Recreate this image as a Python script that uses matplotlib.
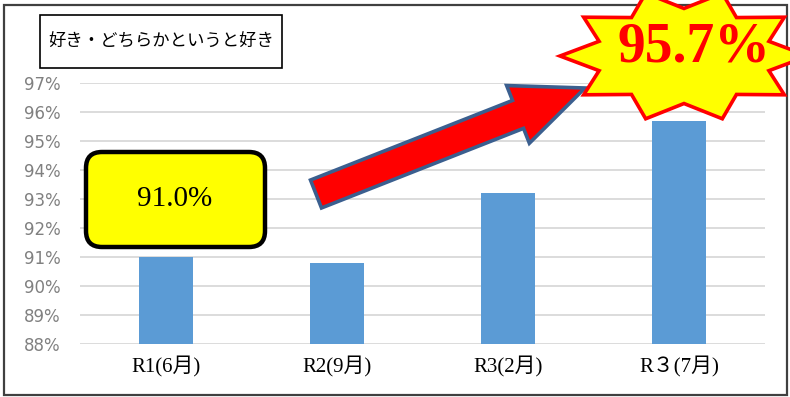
import numpy as np
import matplotlib
matplotlib.use("Agg")
import matplotlib.pyplot as plt
from matplotlib.patches import Rectangle, FancyBboxPatch, Polygon
from matplotlib.transforms import IdentityTransform

# データ
categories = ["R1(6月)", "R2(9月)", "R3(2月)", "R３(7月)"]
values = [91.0, 90.8, 93.2, 95.7]
yticks = [88, 89, 90, 91, 92, 93, 94, 95, 96, 97]
title_text = "好き・どちらかというと好き"
first_label = "91.0%"
last_label = "95.7%"

W, H = 790, 397
cjk = "Noto Sans CJK JP"
serif = ["Liberation Serif", cjk]

def px(x, y):
    # 画像座標(左上原点) -> 表示座標
    return (x, H - y)

fig = plt.figure(figsize=(W / 100, H / 100), dpi=100)
fig.patch.set_facecolor("white")
ax = fig.add_axes([80 / W, 1 - 344 / H, (765 - 80) / W, (344 - 83) / H])

x = np.arange(len(categories))
ax.bar(x, np.array(values) - 88, bottom=88, width=0.315, color="#5b9bd5", zorder=3)
ax.set_xlim(-0.5, len(categories) - 0.5)
ax.set_ylim(88, 97)
ax.set_yticks(yticks)
ax.set_yticklabels([f"{v}%" for v in yticks], color="#808080", fontsize=12,
                   family="DejaVu Sans")
ax.set_xticks(x)
ax.set_xticklabels(categories, fontsize=15, family=serif)
ax.tick_params(axis="both", length=0)
ax.tick_params(axis="y", pad=14)
ax.tick_params(axis="x", pad=9)
ax.grid(axis="y", color="#d9d9d9", linewidth=1.3, zorder=0)
for s in ax.spines.values():
    s.set_visible(False)

tr = IdentityTransform()

# 外枠
x0, y0 = px(4, 395)
fig.add_artist(Rectangle((x0, y0), 783, 390, fill=False, edgecolor="#404040",
                         linewidth=1.6, transform=tr, zorder=1))

# タイトル枠
x0, y0 = px(40, 68)
fig.add_artist(Rectangle((x0, y0), 242, 53, facecolor="white", edgecolor="black",
                         linewidth=1.2, transform=tr, zorder=5))
fig.text(161 / W, 1 - 42 / H, title_text, ha="center", va="center",
         fontsize=12.5, family=[cjk, "DejaVu Sans"], zorder=6)

# 黄色のラベル
x0, y0 = px(86, 247)
fig.add_artist(FancyBboxPatch((x0, y0), 179, 95,
                              boxstyle="round,pad=0,rounding_size=16",
                              facecolor="#ffff00", edgecolor="black",
                              linewidth=3.2, transform=tr, zorder=5))
fig.text(175 / W, 1 - 199 / H, first_label, ha="center", va="center",
         fontsize=21, family=serif, zorder=6)

# 矢印
tail = np.array([316.0, 194.0])
tip = np.array([585.0, 88.0])
u = (tip - tail) / np.linalg.norm(tip - tail)
n = np.array([-u[1], u[0]])
hl, hw, sw = 72, 31, 15
base = tip - hl * u
pts = [tail + sw * n, base + sw * n, base + hw * n, tip,
       base - hw * n, base - sw * n, tail - sw * n]
fig.add_artist(Polygon([px(*p) for p in pts], closed=True, facecolor="#ff0000",
                       edgecolor="#3b5f8f", linewidth=2.6, joinstyle="miter",
                       transform=tr, zorder=7))

# 星
cx, cy = 684, 56
k = 10
ang = np.deg2rad(180 + np.arange(2 * k) * 180 / k)
r = np.where(np.arange(2 * k) % 2 == 0, 1.0, 0.72)
sx = cx + 124 * r * np.cos(ang)
sy = cy - 66 * r * np.sin(ang)
fig.add_artist(Polygon([px(a, b) for a, b in zip(sx, sy)], closed=True,
                       facecolor="#ffff00", edgecolor="#ff0000", linewidth=2.6,
                       transform=tr, zorder=8))
fig.text(694 / W, 1 - 47 / H, last_label, ha="center", va="center",
         fontsize=40, fontweight="bold", color="#ff0000",
         family=serif, zorder=9)

fig.savefig("out.png", dpi=100)
